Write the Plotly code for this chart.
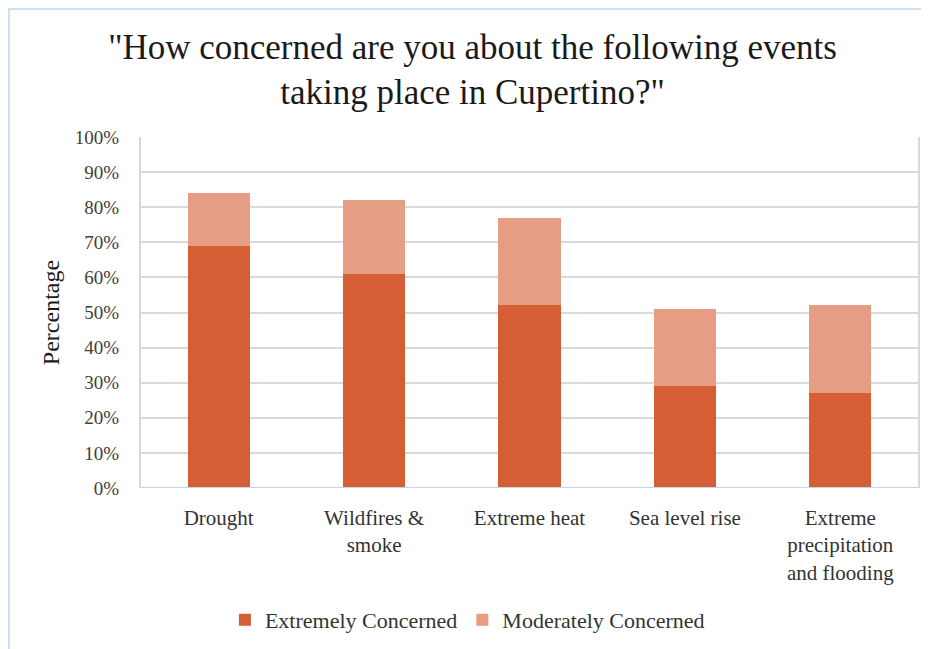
import plotly.graph_objects as go

categories = ["Drought", "Wildfires &<br>smoke", "Extreme heat", "Sea level rise",
              "Extreme<br>precipitation<br>and flooding"]
extremely = [69, 61, 52, 29, 27]
moderately = [15, 21, 25, 22, 25]
tick_vals = [0, 10, 20, 30, 40, 50, 60, 70, 80, 90, 100]
tick_text = [f"{v}%" for v in tick_vals]

W, H = 929, 649
ML, MR, MT, MB = 133, 19, 129, 169
font_family = "Liberation Serif, DejaVu Serif, serif"

fig = go.Figure()
fig.add_trace(go.Bar(x=categories, y=extremely, name="Extremely Concerned",
                     marker=dict(color="#D65E35", line=dict(width=0))))
fig.add_trace(go.Bar(x=categories, y=moderately, name="Moderately Concerned",
                     marker=dict(color="#E59D84", line=dict(width=0))))

pw = W - ML - MR
ph = H - MT - MB
fig.add_shape(type="rect", xref="paper", yref="paper",
              x0=(1 - ML) / pw, x1=(W + 20 - ML) / pw,
              y0=1 + (MT - 1) / ph, y1=-(MB + 20) / ph,
              line=dict(color="#BDD7EE", width=1.5), layer="below")

fig.update_layout(
    width=W, height=H,
    margin=dict(l=ML, r=MR, t=MT, b=MB),
    paper_bgcolor="white", plot_bgcolor="white",
    barmode="stack", bargap=0.6,
    font=dict(family=font_family, color="#404040"),
    title=dict(text="\"How concerned are you about the following events<br>taking place in Cupertino?\"",
               x=0.50, xanchor="center", y=0.922, yanchor="middle",
               font=dict(size=35, color="#1a1a1a", family=font_family)),
    legend=dict(orientation="h", x=0.108, xanchor="left", y=-0.376, yanchor="middle",
                font=dict(size=22, color="#333333", family=font_family), traceorder="normal",
                itemwidth=30),
    showlegend=True,
)
fig.update_yaxes(range=[0, 100], tickvals=tick_vals, ticktext=tick_text,
                 tickfont=dict(size=19, color="#404040"),
                 showgrid=True, gridcolor="#D9D9D9", gridwidth=2,
                 showline=True, linecolor="#D9D9D9", linewidth=2, mirror=True,
                 zeroline=False, ticks="", ticklen=0, ticklabelstandoff=16,
                 title=dict(text="Percentage", font=dict(size=24, color="#1a1a1a"), standoff=8))
fig.update_xaxes(tickfont=dict(size=21, color="#333333"), showline=False,
                 ticks="", showgrid=False, ticklabelstandoff=15)
fig.add_shape(type="line", xref="paper", yref="y", x0=0, x1=1, y0=0, y1=0,
              line=dict(color="#BDD7EE", width=2))

fig.write_html("out.html")
